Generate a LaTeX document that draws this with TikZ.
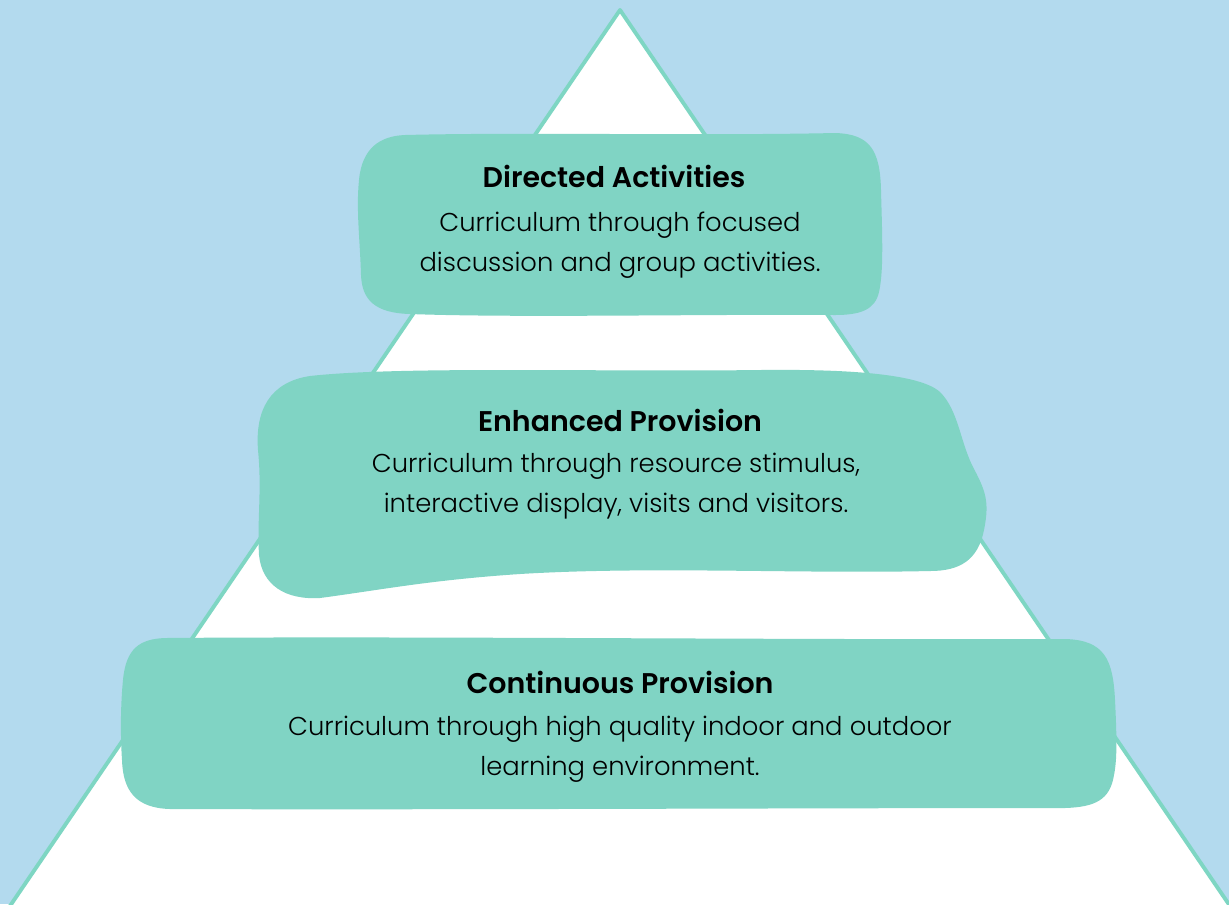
\documentclass[tikz,border=0pt]{standalone}
\usepackage{fontspec}
\setmainfont{Poppins}
\newfontfamily\lightfont{Poppins Light}
\newfontfamily\semifont{Poppins SemiBold}
\usepackage{xcolor}
\definecolor{skyback}{HTML}{B3DAEE}
\definecolor{mintblob}{HTML}{80D4C4}
\definecolor{mintline}{HTML}{7ED6C3}
\tikzset{
  blob/.style={fill=mintblob, draw=none},
  title/.style={font=\fontsize{16.2}{18}\semifont, text=black},
  body/.style={font=\fontsize{14.7}{22.5}\lightfont, text=black, align=center}
}

\begin{document}
\begin{tikzpicture}[x=0.02cm,y=-0.02cm]
            \useasboundingbox (0,0) rectangle (1229,904);
            \clip (0,0) rectangle (1229,904);
            \fill[skyback] (0,0) rectangle (1229,904);
            % pyramid
            \draw[draw=mintline, fill=white, line width=2.2pt, line join=round] (620,10) -- (-20,950) -- (1260,950) -- cycle;
            % top blob
            \fill[blob] (405,135) .. controls (520,132) and (700,136) .. (835,133)
                .. controls (870,134) and (880,150) .. (881,190)
                .. controls (882,230) and (884,270) .. (879,292)
                .. controls (875,310) and (860,315) .. (835,315)
                .. controls (700,314) and (520,318) .. (410,314)
                .. controls (375,313) and (362,300) .. (361,275)
                .. controls (360,240) and (356,210) .. (359,180)
                .. controls (362,148) and (380,136) .. (405,135) -- cycle;
            % middle blob
            \fill[blob] (310,376) .. controls (400,366) and (600,372) .. (760,370)
                .. controls (850,369) and (920,374) .. (940,392)
                .. controls (958,410) and (960,440) .. (972,465)
                .. controls (985,490) and (990,500) .. (984,530)
                .. controls (978,560) and (960,571) .. (930,571)
                .. controls (800,574) and (650,566) .. (520,574)
                .. controls (430,580) and (380,590) .. (320,598)
                .. controls (285,600) and (262,585) .. (259,555)
                .. controls (257,520) and (262,490) .. (258,450)
                .. controls (255,410) and (270,382) .. (310,376) -- cycle;
            % bottom blob
            \fill[blob] (165,638) .. controls (400,636) and (800,640) .. (1065,639)
                .. controls (1105,640) and (1113,660) .. (1115,700)
                .. controls (1117,740) and (1117,760) .. (1114,775)
                .. controls (1110,800) and (1095,807) .. (1065,808)
                .. controls (800,808) and (400,810) .. (170,809)
                .. controls (135,808) and (123,790) .. (122,760)
                .. controls (120,730) and (121,700) .. (123,680)
                .. controls (126,648) and (140,639) .. (165,638) -- cycle;
            % texts
            \node[title] (dirtitle) at (614,176) {Directed Activities};
            \node[body] (dirtext) at (620,245) {Curriculum through focused\\discussion and group activities.};
            \node[title] (enhtitle) at (620,420) {Enhanced Provision};
            \node[body] (enhtext) at (616,486) {Curriculum through resource stimulus,\\interactive display, visits and visitors.};
            \node[title] (contitle) at (620,682) {Continuous Provision};
            \node[body] (context) at (620,749) {Curriculum through high quality indoor and outdoor\\learning environment.};
        \end{tikzpicture}
\end{document}
